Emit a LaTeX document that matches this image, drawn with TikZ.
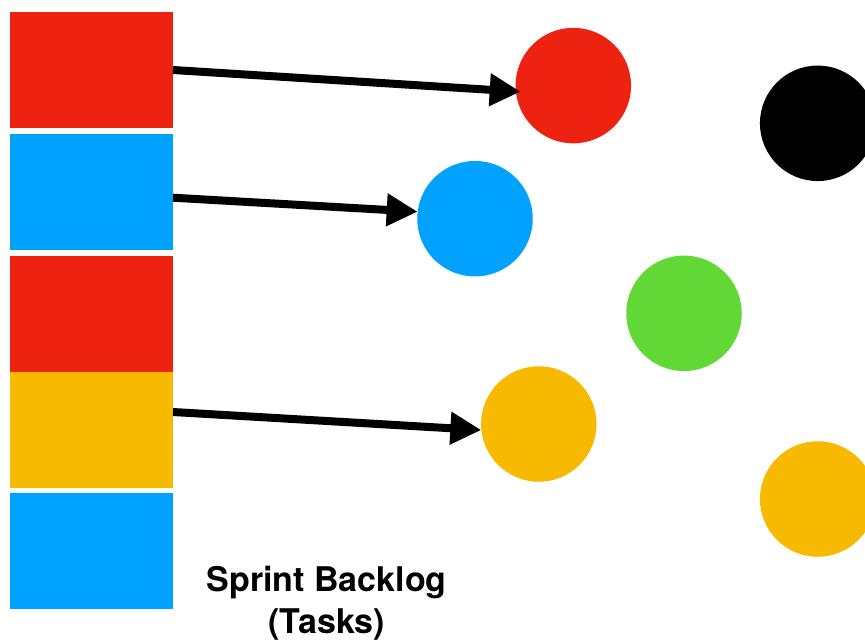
\documentclass[tikz,border=0pt]{standalone}
\usepackage{fontspec}
\setmainfont{TeX Gyre Heros}
\usetikzlibrary{arrows.meta,calc}
\definecolor{cred}{HTML}{EE2210}
\definecolor{cblue}{HTML}{00A2FF}
\definecolor{cyellow}{HTML}{F8BA00}
\definecolor{cgreen}{HTML}{61D836}
\begin{document}
\begin{tikzpicture}[x=1pt,y=-1pt,
  task/.style={draw=none,minimum width=163pt,minimum height=116pt,inner sep=0pt,outer sep=0pt},
  dot/.style={circle,draw=none,minimum size=115.5pt,inner sep=0pt,outer sep=0pt},
  link/.style={line width=8pt,-{Triangle[length=31pt,width=31pt]}},
  lbl/.style={font=\fontsize{34}{40}\selectfont\bfseries,inner sep=0pt,anchor=base}]
\useasboundingbox (0,0) rectangle (865,641);
% backlog tasks
\node[task,fill=cred]    (b1) at (91.5,70) {};
\node[task,fill=cblue]   (b2) at (91.5,192) {};
\node[task,fill=cred]    (b3) at (91.5,314) {};
\node[task,fill=cyellow] (b4) at (91.5,430) {};
\node[task,fill=cblue]   (b5) at (91.5,551) {};
% circles
\node[dot,fill=cred]    (c1) at (573.3,85.6) {};
\node[dot,fill=cblue]   (c2) at (475,218.7) {};
\node[dot,fill=cgreen]  (c3) at (684,313.3) {};
\node[dot,fill=cyellow] (c4) at (538.8,424) {};
\node[dot,fill=black]   (c5) at (817.7,123.3) {};
\node[dot,fill=cyellow] (c6) at (817.7,499) {};
% arrows
\draw[link] (b1.east) -- ($(c1.center)+(-52.6,6.1)$);
\draw[link] ($(b2.east)+(0,5.7)$) -- (c2.173);
\draw[link] ($(b4.east)+(0,-18)$) -- (c4.186);
% label
\node[lbl] (t1) at (326.7,591) {Sprint Backlog};
\node[lbl] (t2) at (326.7,633) {(Tasks)};
\end{tikzpicture}
\end{document}
